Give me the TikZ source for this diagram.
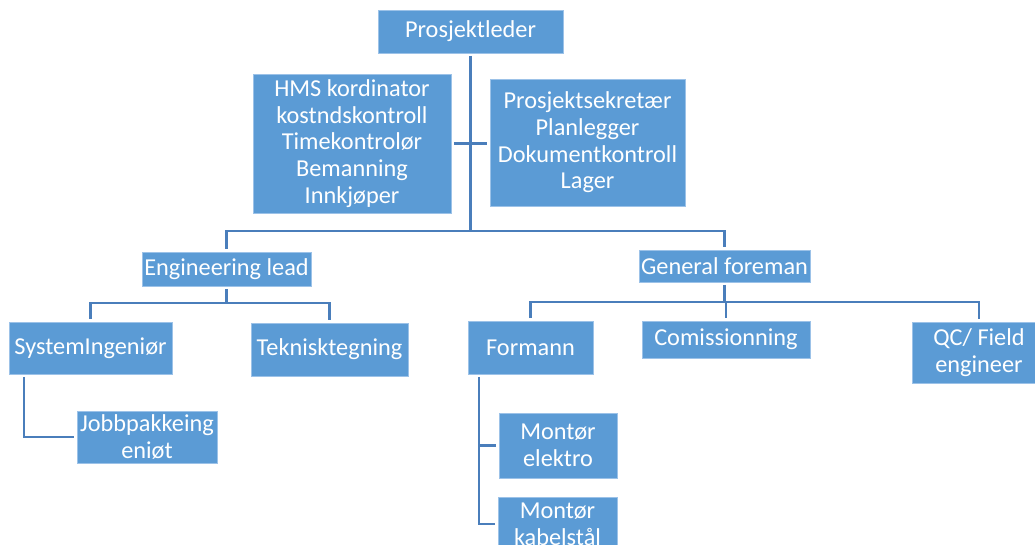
\documentclass[tikz,border=0pt]{standalone}
\usepackage{fontspec}
\setmainfont{Carlito}
\usetikzlibrary{calc}
\definecolor{boxfill}{HTML}{5B9BD5}
\definecolor{boxedge}{HTML}{9CC2E8}
\definecolor{linkcol}{HTML}{4A7EBB}
\begin{document}
\begin{tikzpicture}[x=1pt,y=-1pt,
  orgbox/.style={rectangle, fill=boxfill, draw=boxedge, line width=0.7pt,
    text=white, align=center, inner sep=0pt,
    font=\fontsize{24.3}{26.7}\selectfont},
  link/.style={draw=linkcol, line width=2.3pt, shorten <=2.5pt, shorten >=2.5pt}]
\useasboundingbox (0,0) rectangle (1035,544);
\clip (0,0) rectangle (1035,544);

% top level and staff boxes
\node[orgbox, minimum width=185pt, minimum height=43pt] (pl) at (470.5,31.5) {Prosjektleder};
\node[orgbox, minimum width=198pt, minimum height=139pt] (hms) at (352,143.5)
  {HMS kordinator\\kostndskontroll\\Timekontrolør\\Bemanning\\Innkjøper};
\node[orgbox, minimum width=195pt, minimum height=127pt] (sek) at (587.5,142.5)
  {Prosjektsekretær\\Planlegger\\Dokumentkontroll\\Lager};

% second level
\node[orgbox, minimum width=169pt, minimum height=34pt] (eng) at (226.5,269) {Engineering lead};
\node[orgbox, minimum width=171pt, minimum height=32pt] (gf) at (724.5,266) {General foreman};

% engineering branch
\node[orgbox, minimum width=163pt, minimum height=52pt] (sys) at (90.5,348) {SystemIngeniør};
\node[orgbox, minimum width=157pt, minimum height=53pt] (tek) at (329.5,349.5) {Teknisktegning};
\node[orgbox, minimum width=140pt, minimum height=52pt] (job) at (147,437) {Jobbpakkeing\\eniøt};

% site branch
\node[orgbox, minimum width=125pt, minimum height=53pt] (form) at (530.5,347.5) {Formann};
\node[orgbox, minimum width=168pt, minimum height=37pt] (com) at (726,339.5) {Comissionning};
\node[orgbox, minimum width=134pt, minimum height=61pt] (qc) at (979,352.5) {QC/ Field\\engineer};
\node[orgbox, minimum width=118pt, minimum height=65pt] (me) at (558,445.5) {Montør\\elektro};
\node[orgbox, minimum width=119pt, minimum height=54pt] (mk) at (557.5,524) {Montør\\kabelstål};

% bus points
\coordinate (trunk) at (470.5,231);
\coordinate (ebus) at (226.5,303);
\coordinate (gbus) at (724.5,302);

% connectors
\draw[link, shorten >=0pt] (pl.south) -- (trunk);
\draw[link, shorten <=0pt] (trunk) -| (eng.north);
\draw[link, shorten <=0pt] (trunk) -| (gf.north);
\draw[link] (hms.east) -- (hms.east -| sek.west);

\draw[link, shorten >=0pt] (eng.south) -- (ebus);
\draw[link] (sys.north) |- (ebus) -| (tek.north);
\draw[link] ([xshift=-66.5pt]sys.south) |- (job.west);

\draw[link, shorten >=0pt] (gf.south) -- (gbus);
\draw[link] (form.north) |- (gbus) -| (qc.north);
\draw[link, shorten <=0pt] (com.north |- gbus) -- (com.north);
\draw[link] ([xshift=-51.5pt]form.south) |- (mk.west);
\draw[link, shorten <=0pt] ([xshift=-51.5pt]form.south |- me.west) -- (me.west);
\end{tikzpicture}
\end{document}
